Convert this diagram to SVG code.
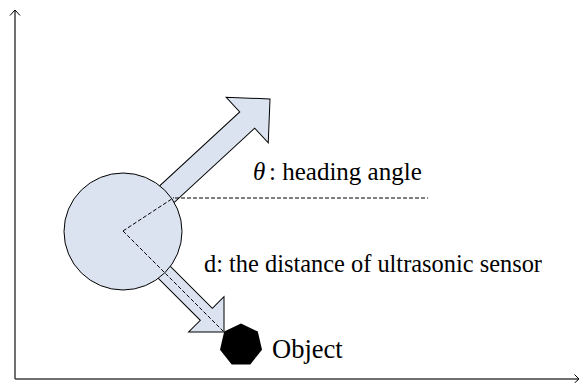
<svg xmlns="http://www.w3.org/2000/svg" width="580" height="383" viewBox="0 0 580 383">
<style>
.axis{stroke:#404040;stroke-width:1.5;fill:none}
.chev{stroke:#000;stroke-width:1;fill:none}
.shape{fill:#dbe3f0;stroke:#000;stroke-width:1}
.dash{stroke:#000;stroke-width:1;stroke-dasharray:4 2;fill:none}
.lbl{font-family:'Liberation Serif','Times New Roman',serif;fill:#000}
</style>
<rect width="580" height="383" fill="#fff"/>
<g id="axes">
<line class="axis" x1="15" y1="379" x2="15" y2="10.5"/>
<line class="axis" x1="15" y1="379" x2="578.5" y2="379"/>
<polyline class="chev" points="10,15.5 15,10 20,15.5"/>
<polyline class="chev" points="574.5,374.5 579,379 574.5,383"/>
</g>
<g id="heading-arrow">
<polygon class="shape" transform="translate(270,99) rotate(-42.7)" points="0,0 -31,-31 -31,-11 -175,-11 -175,11 -31,11 -31,31"/>
</g>
<g id="sensor-arrow">
<polygon class="shape" transform="translate(224,332) rotate(45)" points="0,0 -25,-25 -25,-8.5 -110,-8.5 -110,8.5 -25,8.5 -25,25"/>
</g>
<g id="robot">
<ellipse class="shape" cx="123" cy="231.5" rx="59" ry="58.5"/>
</g>
<g id="connectors">
<line class="dash" x1="123" y1="231" x2="174" y2="197.5"/>
<line class="dash" x1="175" y1="198" x2="428" y2="198"/>
<line class="dash" x1="123" y1="231" x2="223" y2="331"/>
</g>
<g id="object">
<polygon fill="#000" points="241,323.5 257.8,331.6 262,349.8 250.3,364.4 231.7,364.4 220,349.8 224.2,331.6"/>
</g>
<g id="labels">
<text class="lbl" x="253" y="180" font-size="25"><tspan font-style="italic">θ</tspan><tspan x="269">: heading angle</tspan></text>
<text class="lbl" x="204" y="272" font-size="24.4">d: the distance of ultrasonic sensor</text>
<text class="lbl" x="272" y="358" font-size="26.5">Object</text>
</g>
</svg>
